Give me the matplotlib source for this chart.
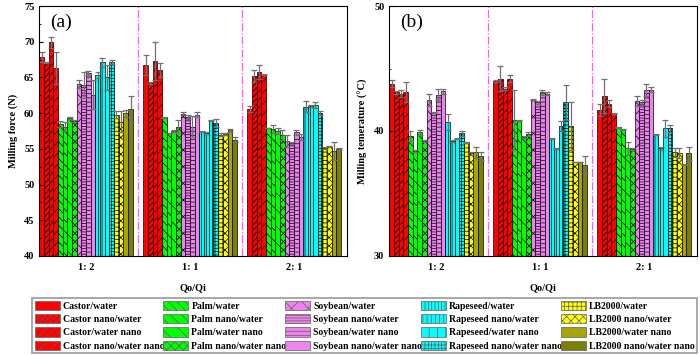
import matplotlib
matplotlib.use("Agg")
import matplotlib.pyplot as plt
import numpy as np
from matplotlib.patches import Patch

plt.rcParams["font.family"] = ["Liberation Serif", "DejaVu Serif"]
plt.rcParams["font.weight"] = "bold"
plt.rcParams["hatch.linewidth"] = 0.5

ratios = ["1: 2", "1: 1", "2: 1"]

series = [
    "Castor/water", "Castor nano/water", "Castor/water nano", "Castor nano/water nano",
    "Palm/water", "Palm nano/water", "Palm/water nano", "Palm nano/water nano",
    "Soybean/water", "Soybean nano/water", "Soybean/water nano", "Soybean nano/water nano",
    "Rapeseed/water", "Rapeseed nano/water", "Rapeseed/water nano", "Rapeseed nano/water nano",
    "LB2000/water", "LB2000 nano/water", "LB2000/water nano", "LB2000 nano/water nano",
]

colors = ["#FF0000"] * 4 + ["#00FF00"] * 4 + ["#EE82EE"] * 4 + ["#00FFFF"] * 4 + \
         ["#FFFF00", "#FFFF00", "#A6A600", "#808000"]

hatches = ["", "//////", "////", "///",
           "\\\\\\\\", "\\\\\\", "\\\\", "xxxx",
           "xx", "------", "----", "",
           "|||||", "||||", "||", "+++++",
           "++++", "xxxx", "", ""]

# milling force (N), one row per Qo/Qi ratio
force = [
    [67.9, 67.1, 69.9, 66.3, 58.5, 58.1, 59.3, 58.9, 64.1, 63.9, 65.6, 62.6, 65.3, 67.1, 65.0, 67.2, 59.8, 58.8, 60.0, 60.6],
    [66.8, 64.2, 67.3, 66.0, 59.4, 57.2, 57.5, 58.1, 59.9, 59.5, 58.1, 59.8, 57.4, 57.2, 59.0, 58.6, 57.0, 57.1, 57.6, 56.3],
    [60.6, 65.2, 65.8, 65.4, 57.9, 57.8, 57.5, 56.9, 56.1, 55.8, 57.3, 56.7, 60.9, 61.0, 61.1, 60.0, 55.1, 55.3, 54.7, 55.0],
]
force_err = [
    [0.7, 0.1, 0.75, 2.2, 0.4, 0.6, 0.1, 0.1, 0.6, 1.8, 0.3, 2.0, 0.4, 0.6, 1.7, 0.3, 0.5, 1.5, 0.5, 1.8],
    [1.4, 0.1, 2.7, 1.0, 0.05, 0.05, 0.1, 0.9, 0.2, 0.3, 1.5, 0.4, 0.1, 0.1, 0.05, 0.6, 0.2, 0.1, 0.2, 0.4],
    [0.4, 0.8, 1.0, 0.1, 0.05, 0.6, 0.4, 0.7, 0.9, 0.1, 0.3, 0.4, 0.8, 0.1, 0.4, 0.3, 0.1, 0.1, 1.2, 0.1],
]

# milling temperature (°C)
temp = [
    [43.8, 43.1, 43.0, 43.1, 39.6, 38.4, 39.9, 39.2, 42.5, 41.5, 42.9, 43.2, 40.7, 39.2, 39.4, 39.8, 39.1, 38.2, 38.3, 38.0],
    [44.0, 44.2, 43.4, 44.2, 40.9, 40.85, 39.5, 39.75, 42.5, 42.3, 43.1, 43.0, 39.4, 38.6, 40.4, 42.3, 40.4, 37.5, 37.5, 37.3],
    [41.7, 42.8, 42.2, 41.4, 40.3, 40.1, 38.6, 38.55, 42.4, 42.3, 43.3, 43.3, 39.7, 38.6, 40.2, 40.2, 38.3, 38.2, 37.3, 38.2],
]
temp_err = [
    [0.3, 0.1, 0.25, 0.8, 0.4, 0.05, 0.2, 0.1, 0.5, 0.05, 0.45, 0.2, 0.65, 0.05, 0.05, 0.2, 0.05, 0.1, 0.45, 0.35],
    [0.05, 1.0, 0.1, 0.3, 2.4, 0.05, 0.1, 0.15, 0.05, 0.1, 0.2, 0.1, 0.05, 0.05, 0.4, 1.4, 1.9, 0.02, 0.02, 0.7],
    [0.5, 1.35, 0.3, 0.05, 0.05, 0.05, 0.5, 0.1, 0.4, 0.2, 0.5, 0.2, 0.05, 0.1, 0.7, 0.25, 0.35, 0.4, 0.02, 0.55],
]


def draw_panel(ax, values, errors, ylim, major, ylabel, tag):
    n = len(series)
    width = 0.9 / n
    groups = np.arange(len(ratios))
    for j in range(n):
        x = groups + (j - (n - 1) / 2) * width
        vals = [row[j] for row in values]
        errs = [row[j] for row in errors]
        ax.bar(x, vals, width, color=colors[j], hatch=hatches[j],
               edgecolor="black", linewidth=0.5,
               yerr=errs, ecolor="#707070",
               error_kw=dict(elinewidth=0.9, capsize=2, capthick=0.9))
    for xv in [0.5, 1.5]:
        ax.axvline(xv, color="#FF55FF", linestyle="-.", linewidth=0.9)
    ax.set_xlim(-0.45, 2.51)
    ax.set_ylim(*ylim)
    ax.set_yticks(np.arange(ylim[0], ylim[1] + 0.1, major))
    ax.set_yticks(np.arange(ylim[0], ylim[1] + 0.1, major / 2), minor=True)
    ax.set_xticks(groups)
    ax.set_xticklabels(ratios, fontsize=7.5, fontweight="bold")
    ax.tick_params(axis="x", length=0, pad=5)
    ax.tick_params(axis="y", direction="in", labelsize=7.5, length=3)
    ax.tick_params(axis="y", which="minor", direction="in", length=1.5)
    for lab in ax.get_yticklabels():
        lab.set_fontweight("bold")
    ax.set_ylabel(ylabel, fontsize=7.5, fontweight="bold", labelpad=4)
    ax.set_xlabel("Qo/Qi", fontsize=7.5, fontweight="bold", labelpad=8)
    ax.text(0.035, 0.97, tag, transform=ax.transAxes, fontsize=14,
            fontweight="normal", va="top", ha="left")


fig = plt.figure(figsize=(7, 3.55), dpi=100)
ax1 = fig.add_axes([0.056, 0.279, 0.440, 0.704])
ax2 = fig.add_axes([0.556, 0.279, 0.440, 0.704])

draw_panel(ax1, force, force_err, (40, 75), 5, "Milling force (N)", "(a)")
draw_panel(ax2, temp, temp_err, (30, 50), 10, "Milling temerature (\u00b0C)", "(b)")

handles = [Patch(facecolor=colors[j], hatch=hatches[j], edgecolor="#606060",
                 linewidth=0.5, label=series[j]) for j in range(len(series))]
leg = fig.legend(handles=handles, ncol=5, loc="lower left",
                 bbox_to_anchor=(0.046, 0.005, 0.950, 0.172), mode="expand",
                 fontsize=7, handlelength=2.6, handleheight=1.1,
                 handletextpad=0.3, labelspacing=0.35, borderpad=0.25,
                 columnspacing=0.2, fancybox=False, borderaxespad=0)
leg.get_frame().set_edgecolor("#808080")
leg.get_frame().set_linewidth(1.2)
for t in leg.get_texts():
    t.set_fontweight("bold")

fig.savefig("out.png", dpi=100)
